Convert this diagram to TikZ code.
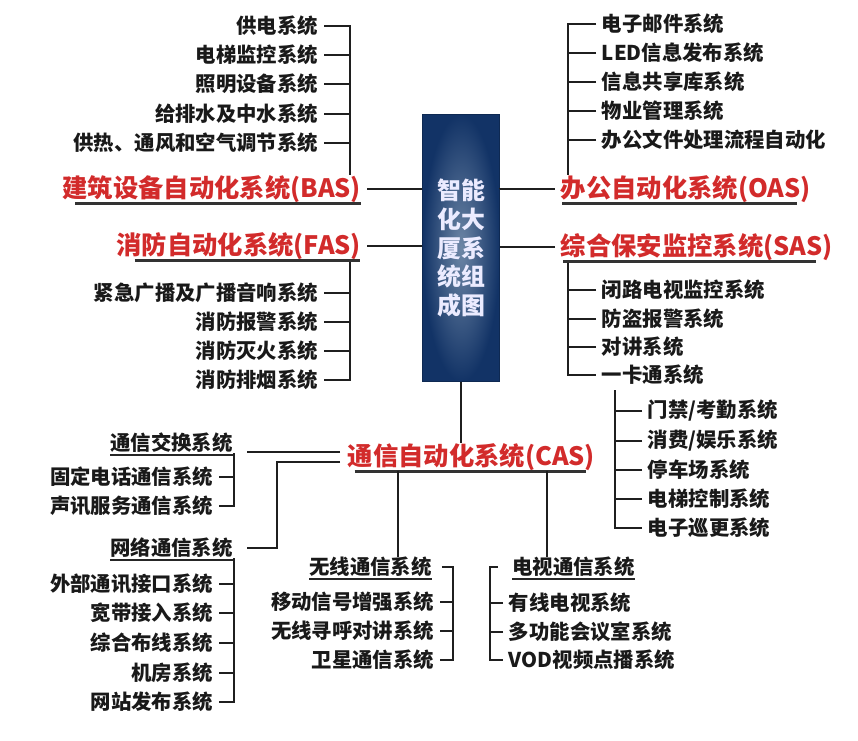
\documentclass[tikz,border=0pt]{standalone}
\usepackage{fontspec}
\newfontfamily\cjk{Noto Sans CJK SC}

\definecolor{casred}{HTML}{D22B2B}
\definecolor{boxblue}{HTML}{123366}
\definecolor{boxglow}{HTML}{6D86A6}

\begin{document}
\begin{tikzpicture}[
    x=0.25mm, y=-0.25mm,
    core/.style={rectangle, minimum width=19.25mm, minimum height=66.75mm, inner color=boxglow, outer color=boxblue, draw=boxblue!80!black, line width=0.6pt, align=center, text=white!92!blue, font=\cjk\bfseries\fontsize{17}{20.6}\selectfont},
    mainsys/.style={font=\cjk\bfseries\fontsize{18}{21}\selectfont, text=casred, inner ysep=0pt, inner xsep=4pt},
    subsys/.style={font=\cjk\bfseries\fontsize{14.5}{17}\selectfont, text=black!90, inner sep=0pt},
    leaf/.style={font=\cjk\bfseries\fontsize{14.5}{17}\selectfont, text=black!90, inner ysep=0pt, inner xsep=4pt},
    link/.style={draw=black!88, line width=2pt},
    uline/.style={draw=black!80, line width=2pt},
    gline/.style={draw=black!85, line width=1.4pt}
]
\useasboundingbox (0,0) rectangle (858,740);

% Core box
\node[core] (box) at (461,248) {智能\\化大\\厦系\\统组\\成图};

% BAS
\node[mainsys, anchor=east] (bas) at (367,189) {建筑设备自动化系统(BAS)};
\node[leaf, anchor=east] (b1) at (324,26) {供电系统};
\node[leaf, anchor=east] (b2) at (324,55) {电梯监控系统};
\node[leaf, anchor=east] (b3) at (324,84) {照明设备系统};
\node[leaf, anchor=east] (b4) at (324,114) {给排水及中水系统};
\node[leaf, anchor=east] (b5) at (324,143) {供热、通风和空气调节系统};
\coordinate (basbar) at (350,0);
\draw[link] (b1) -- (b1 -| basbar) -- (bas.north -| basbar);
\draw[link] (b2) -- (b2 -| basbar);
\draw[link] (b3) -- (b3 -| basbar);
\draw[link] (b4) -- (b4 -| basbar);
\draw[link] (b5) -- (b5 -| basbar);
\draw[uline, shorten <=13pt, shorten >=4pt] ([yshift=-0.5pt]bas.south west) -- ([yshift=-0.5pt]bas.south east);
\draw[link] (bas) -- (bas -| box.west);

% FAS
\node[mainsys, anchor=east] (fas) at (367,246) {消防自动化系统(FAS)};
\node[leaf, anchor=east] (f1) at (324,293) {紧急广播及广播音响系统};
\node[leaf, anchor=east] (f2) at (324,322) {消防报警系统};
\node[leaf, anchor=east] (f3) at (324,351) {消防灭火系统};
\node[leaf, anchor=east] (f4) at (324,380) {消防排烟系统};
\coordinate (fasbar) at (350,0);
\draw[link] (fas.south -| fasbar) -- (f4 -| fasbar) -- (f4);
\draw[link] (f1) -- (f1 -| fasbar);
\draw[link] (f2) -- (f2 -| fasbar);
\draw[link] (f3) -- (f3 -| fasbar);
\draw[uline, shorten <=17pt, shorten >=5pt] ([yshift=-0.5pt]fas.south west) -- ([yshift=-0.5pt]fas.south east);
\draw[link] (fas) -- (fas -| box.west);

% OAS
\node[mainsys, anchor=west] (oas) at (555,189) {办公自动化系统(OAS)};
\node[leaf, anchor=west] (o1) at (596,24) {电子邮件系统};
\node[leaf, anchor=west] (o2) at (596,53) {LED信息发布系统};
\node[leaf, anchor=west] (o3) at (596,82) {信息共享库系统};
\node[leaf, anchor=west] (o4) at (596,111) {物业管理系统};
\node[leaf, anchor=west] (o5) at (596,140) {办公文件处理流程自动化};
\coordinate (oasbar) at (568,0);
\draw[link] (o1) -- (o1 -| oasbar) -- (oas.north -| oasbar);
\draw[link] (o2) -- (o2 -| oasbar);
\draw[link] (o3) -- (o3 -| oasbar);
\draw[link] (o4) -- (o4 -| oasbar);
\draw[link] (o5) -- (o5 -| oasbar);
\draw[uline, shorten <=5pt, shorten >=14pt] ([yshift=-0.5pt]oas.south west) -- ([yshift=-0.5pt]oas.south east);
\draw[link] (box) -- (box.east |- oas) -- (oas);

% SAS
\node[mainsys, anchor=west] (sas) at (555,247) {综合保安监控系统(SAS)};
\node[leaf, anchor=west] (s1) at (596,290) {闭路电视监控系统};
\node[leaf, anchor=west] (s2) at (596,319) {防盗报警系统};
\node[leaf, anchor=west] (s3) at (596,347) {对讲系统};
\node[leaf, anchor=west] (s4) at (596,375) {一卡通系统};
\coordinate (sasbar) at (568,0);
\draw[link] (sas.south -| sasbar) -- (s4 -| sasbar) -- (s4);
\draw[link] (s1) -- (s1 -| sasbar);
\draw[link] (s2) -- (s2 -| sasbar);
\draw[link] (s3) -- (s3 -| sasbar);
\draw[uline, shorten <=6pt, shorten >=16pt] ([yshift=-0.5pt]sas.south west) -- ([yshift=-0.5pt]sas.south east);
\draw[link] (sas) -- (sas -| box.east);

% One-card system
\node[leaf, anchor=west] (k1) at (642,411) {门禁/考勤系统};
\node[leaf, anchor=west] (k2) at (642,441) {消费/娱乐系统};
\node[leaf, anchor=west] (k3) at (642,470) {停车场系统};
\node[leaf, anchor=west] (k4) at (642,499) {电梯控制系统};
\node[leaf, anchor=west] (k5) at (642,528) {电子巡更系统};
\coordinate (ykbar) at (615,390);
\draw[link] (ykbar) -- (k5 -| ykbar) -- (k5);
\draw[link] (k1) -- (k1 -| ykbar);
\draw[link] (k2) -- (k2 -| ykbar);
\draw[link] (k3) -- (k3 -| ykbar);
\draw[link] (k4) -- (k4 -| ykbar);

% CAS
\node[mainsys, anchor=east] (cas) at (601,457) {通信自动化系统(CAS)};
\draw[link] (box) -- (cas.north -| box.south);
\draw[uline, shorten <=9pt, shorten >=11pt] ([yshift=-0.5pt]cas.south west) -- ([yshift=-0.5pt]cas.south east);

% Switching
\node[subsys, anchor=east] (tx) at (233,443) {通信交换系统};
\node[leaf, anchor=east] (t1) at (219,477) {固定电话通信系统};
\node[leaf, anchor=east] (t2) at (219,506) {声讯服务通信系统};
\coordinate (leftbar) at (234,0);
\draw[gline] ([yshift=-1.5pt]tx.south west) -- ([yshift=-1.5pt]tx.south east);
\draw[link] (tx.south -| leftbar) -- (t2 -| leftbar) -- (t2);
\draw[link] (t1) -- (t1 -| leftbar);
\coordinate (txjoin) at (340,452);
\draw[link, shorten >=10pt] (txjoin) -- (txjoin -| tx.east);

% Network
\node[subsys, anchor=east] (wl) at (233,548) {网络通信系统};
\node[leaf, anchor=east] (w1) at (219,584) {外部通讯接口系统};
\node[leaf, anchor=east] (w2) at (219,613) {宽带接入系统};
\node[leaf, anchor=east] (w3) at (219,643) {综合布线系统};
\node[leaf, anchor=east] (w4) at (219,673) {机房系统};
\node[leaf, anchor=east] (w5) at (219,702) {网站发布系统};
\draw[gline] ([yshift=-1.5pt]wl.south west) -- ([yshift=-1.5pt]wl.south east);
\draw[link] (wl.south -| leftbar) -- (w5 -| leftbar) -- (w5);
\draw[link] (w1) -- (w1 -| leftbar);
\draw[link] (w2) -- (w2 -| leftbar);
\draw[link] (w3) -- (w3 -| leftbar);
\draw[link] (w4) -- (w4 -| leftbar);
\coordinate (wljoin) at (340,462);
\coordinate (wlbend) at (277,0);
\draw[link, shorten >=10pt] (wljoin) -- (wljoin -| wlbend) -- (wl -| wlbend) -- (wl.east);

% Wireless
\node[subsys, anchor=east] (wx) at (432,567) {无线通信系统};
\node[leaf, anchor=east] (x1) at (440,602) {移动信号增强系统};
\node[leaf, anchor=east] (x2) at (440,631) {无线寻呼对讲系统};
\node[leaf, anchor=east] (x3) at (440,660) {卫星通信系统};
\draw[gline] ([yshift=-1.5pt]wx.south west) -- ([yshift=-1.5pt]wx.south east);
\coordinate (wxbar) at (453,0);
\draw[link, shorten <=7pt] (wx.east) -- (wx -| wxbar) -- (x3 -| wxbar) -- (x3);
\draw[link] (x1) -- (x1 -| wxbar);
\draw[link] (x2) -- (x2 -| wxbar);
\coordinate (wxdrop) at (398,0);
\draw[link] (cas.south -| wxdrop) -- (wx.north -| wxdrop);

% TV
\node[subsys, anchor=west] (ds) at (512,567) {电视通信系统};
\node[leaf, anchor=west] (d1) at (503,603) {有线电视系统};
\node[leaf, anchor=west] (d2) at (503,632) {多功能会议室系统};
\node[leaf, anchor=west] (d3) at (503,660) {VOD视频点播系统};
\draw[gline] ([yshift=-1.5pt]ds.south west) -- ([yshift=-1.5pt]ds.south east);
\coordinate (dsbar) at (490,0);
\draw[link, shorten <=10pt] (ds.west) -- (ds -| dsbar) -- (d3 -| dsbar) -- (d3);
\draw[link] (d1) -- (d1 -| dsbar);
\draw[link] (d2) -- (d2 -| dsbar);
\coordinate (dsdrop) at (547,0);
\draw[link] (cas.south -| dsdrop) -- (ds.north -| dsdrop);

\end{tikzpicture}
\end{document}
